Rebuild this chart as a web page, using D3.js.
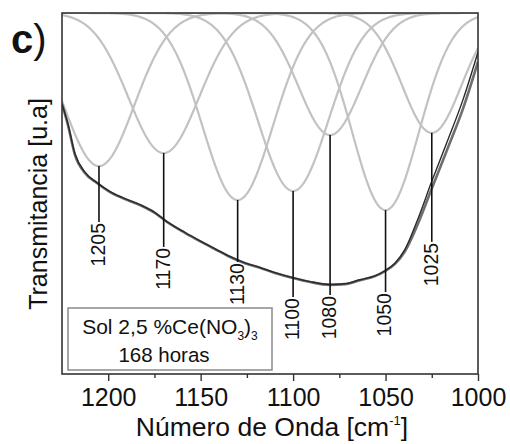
<!DOCTYPE html>
<html>
<head>
<meta charset="utf-8">
<script src="https://cdn.jsdelivr.net/npm/d3@7"></script>
<style>
  body { margin: 0; background: #fff; }
  text { font-family: "Liberation Sans", Arial, sans-serif; fill: #111; }
</style>
</head>
<body>
<svg id="chart" width="510" height="444"></svg>
<script>
// Espectro FTIR medido y ajuste: número de onda (cm-1) vs transmitancia (u.a.)
const numeroOnda = [1225, 1221.8, 1218, 1212.6, 1206.1, 1199, 1192.5, 1182.8, 1174.7, 1168.2,
  1158.5, 1150.4, 1142.3, 1135.2, 1126, 1117.9, 1109.8, 1100.1, 1090.9, 1080.1,
  1072, 1063.8, 1055.7, 1050.3, 1044.9, 1039.5, 1033, 1024.9, 1016.8, 1008.1, 1000];
const transMedida = [74.8, 69.0, 60.7, 55.7, 52.9, 50.4, 48.8, 46.8, 44.6, 42.1,
  39.1, 36.8, 34.6, 32.7, 30.7, 29.4, 28.0, 26.6, 25.5, 24.7,
  24.9, 26.0, 27.1, 28.5, 30.5, 34.0, 41.0, 51.5, 62.0, 73.5, 86.5];
const transAjuste = [74.8, 69.3, 61.0, 55.9, 53.0, 50.5, 48.9, 46.9, 44.7, 42.2,
  39.2, 36.9, 34.7, 32.8, 30.8, 29.5, 28.1, 26.7, 25.6, 24.8,
  25.0, 26.1, 27.2, 28.6, 30.7, 34.5, 42.3, 53.5, 64.2, 76.0, 89.2];

// Bandas de la deconvolución
const bandas = [1205, 1170, 1130, 1100, 1080, 1050, 1025];
const bandaMinimo = [57.6, 61.2, 48.2, 50.7, 66.2, 45.4, 66.8];
const bandaSigma = [19, 19, 19, 19, 17, 18, 16];
const etiquetaT = [42.1, 35.2, 31.0, 21.3, 21.9, 22.7, 36.6];

const ticksMayores = [1200, 1150, 1100, 1050, 1000];
const ticksMenores = [1175, 1125, 1075, 1025];

const svg = d3.select("#chart");
const margin = { top: 13, right: 32, bottom: 70, left: 62 };
const W = 510, H = 444;
const iw = W - margin.left - margin.right;
const ih = H - margin.top - margin.bottom;

const x = d3.scaleLinear().domain([1225, 1000]).range([margin.left, margin.left + iw]);
const y = d3.scaleLinear().domain([0, 100]).range([margin.top + ih, margin.top]);

svg.append("defs").append("clipPath").attr("id", "area")
  .append("rect").attr("x", margin.left).attr("y", margin.top).attr("width", iw).attr("height", ih);

const plot = svg.append("g").attr("clip-path", "url(#area)");

// Componentes gaussianas
const muestras = d3.range(1225, 999.75, -0.5);
const lineaBanda = d3.line().x(d => x(d[0])).y(d => y(d[1]));
bandas.forEach((c, i) => {
  const prof = 100 - bandaMinimo[i];
  const s = bandaSigma[i];
  const pts = muestras.map(w => [w, 100 - prof * Math.exp(-0.5 * ((w - c) / s) ** 2)]);
  plot.append("path").attr("d", lineaBanda(pts))
    .attr("fill", "none").attr("stroke", "#c2c2c2").attr("stroke-width", 2.2);
});

// Espectro medido y ajuste
const lineaEsp = d3.line().curve(d3.curveMonotoneX).x(d => x(d[0])).y(d => y(d[1]));
plot.append("path").attr("d", lineaEsp(numeroOnda.map((w, i) => [w, transMedida[i]])))
  .attr("fill", "none").attr("stroke", "#6e6e6e").attr("stroke-width", 2.6);
plot.append("path").attr("d", lineaEsp(numeroOnda.map((w, i) => [w, transAjuste[i]])))
  .attr("fill", "none").attr("stroke", "#2a2a2a").attr("stroke-width", 1.4);

// Marcadores de bandas
bandas.forEach((c, i) => {
  svg.append("line")
    .attr("x1", x(c)).attr("x2", x(c))
    .attr("y1", y(bandaMinimo[i])).attr("y2", y(etiquetaT[i]))
    .attr("stroke", "#111").attr("stroke-width", 1.6);
  svg.append("text")
    .attr("transform", `translate(${x(c)},${y(etiquetaT[i]) + 1}) rotate(-90)`)
    .attr("text-anchor", "end").attr("dy", "0.3em")
    .attr("font-size", 19.5)
    .text(c);
});

// Leyenda
const ley = svg.append("g");
ley.append("rect").attr("x", 68).attr("y", 308).attr("width", 204).attr("height", 62)
  .attr("fill", "#fff").attr("stroke", "#8a8a8a").attr("stroke-width", 1.5);
const t1 = ley.append("text").attr("x", 170).attr("y", 334).attr("text-anchor", "middle").attr("font-size", 21);
t1.append("tspan").text("Sol 2,5 %Ce(NO");
t1.append("tspan").attr("font-size", 12).attr("dy", 6).text("3");
t1.append("tspan").attr("dy", -6).text(")");
t1.append("tspan").attr("font-size", 12).attr("dy", 6).text("3");
ley.append("text").attr("x", 164).attr("y", 362).attr("text-anchor", "middle").attr("font-size", 20.5)
  .text("168 horas");

// Marco
svg.append("rect").attr("x", margin.left).attr("y", margin.top).attr("width", iw).attr("height", ih)
  .attr("fill", "none").attr("stroke", "#333").attr("stroke-width", 1.6);

// Eje inferior
const ejeX = svg.append("g").attr("transform", `translate(0,${margin.top + ih})`)
  .call(d3.axisBottom(x).tickValues(ticksMayores).tickSize(7).tickPadding(7).tickFormat(d3.format("d")));
ejeX.select(".domain").remove();
ejeX.selectAll(".tick line").attr("stroke", "#333").attr("stroke-width", 1.4);
ejeX.selectAll(".tick text").attr("font-size", 25).attr("font-family", "Liberation Sans, Arial, sans-serif").attr("fill", "#111");
const ejeMenor = svg.append("g").attr("transform", `translate(0,${margin.top + ih})`)
  .call(d3.axisBottom(x).tickValues(ticksMenores).tickSize(4).tickFormat(""));
ejeMenor.select(".domain").remove();
ejeMenor.selectAll(".tick line").attr("stroke", "#333").attr("stroke-width", 1.4);

// Títulos
const tx = svg.append("text").attr("x", 272).attr("y", 436).attr("text-anchor", "middle").attr("font-size", 26.5);
tx.append("tspan").text("Número de Onda [cm");
tx.append("tspan").attr("font-size", 13).attr("dy", -11).text("-1");
tx.append("tspan").attr("dy", 11).text("]");

svg.append("text").attr("transform", "translate(47,204) rotate(-90)")
  .attr("text-anchor", "middle").attr("font-size", 25).text("Transmitancia [u.a]");

const et = svg.append("text").attr("x", 11).attr("y", 53).attr("font-size", 40);
et.append("tspan").attr("font-weight", "bold").text("c");
et.append("tspan").text(")");
</script>
</body>
</html>
